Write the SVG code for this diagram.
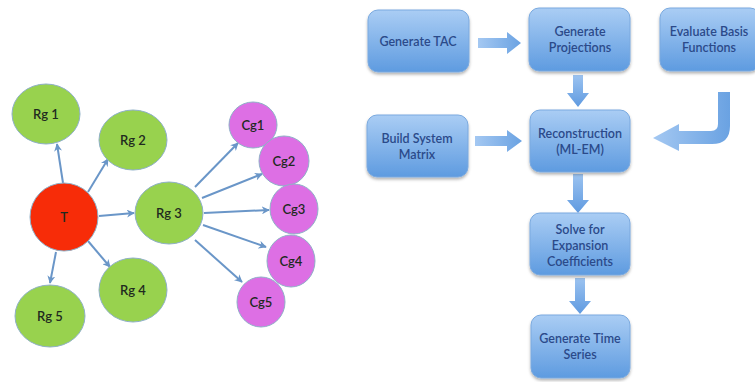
<svg xmlns="http://www.w3.org/2000/svg" width="755" height="382" viewBox="0 0 755 382">
<defs>
<linearGradient id="boxg" x1="0" y1="0" x2="0" y2="1">
<stop offset="0" stop-color="#aacdf4"/>
<stop offset="1" stop-color="#5e9be0"/>
</linearGradient>
<linearGradient id="arrg" x1="0" y1="0" x2="0" y2="1">
<stop offset="0" stop-color="#9cc3f0"/>
<stop offset="1" stop-color="#5f9ae0"/>
</linearGradient>
<linearGradient id="arrh" x1="0" y1="0" x2="1" y2="0">
<stop offset="0" stop-color="#a4c8f2"/>
<stop offset="1" stop-color="#6aa2e2"/>
</linearGradient>
<filter id="sh" x="-20%" y="-20%" width="140%" height="150%">
<feDropShadow dx="0" dy="2" stdDeviation="1.5" flood-color="#000" flood-opacity="0.3"/>
</filter>
<marker id="ah" viewBox="0 0 10 10" refX="9" refY="5" markerWidth="4" markerHeight="4" orient="auto" markerUnits="strokeWidth">
<path d="M0,0 L10,5 L0,10 L3,5 Z" fill="#6a96c8"/>
</marker>
</defs>
<style>
.g{fill:#98d24e;stroke:#8fb0c8;stroke-width:1}
.r{fill:#f72c08;stroke:#8fb0c8;stroke-width:1}
.m{fill:#dd6fe4;stroke:#8fb0c8;stroke-width:1}
.ct{font-family:Lato,"Liberation Sans",Arial,sans-serif;font-size:13px;font-weight:600;fill:#1f2a1f;text-anchor:middle}
.box{fill:url(#boxg);stroke:#7aa9df;stroke-width:1;filter:url(#sh)}
.bt{font-family:Lato,"Liberation Sans",Arial,sans-serif;font-size:12.5px;font-weight:600;fill:#2b4a8a;text-anchor:middle}
.edge{stroke:#6a96c8;stroke-width:2;fill:none;marker-end:url(#ah)}
.fa{fill:url(#arrg)}
.fh{fill:url(#arrh)}
</style>
<rect width="755" height="382" fill="#fff"/>

<g id="connectors">
<line class="edge" x1="63" y1="183" x2="57" y2="144"/>
<line class="edge" x1="88" y1="192" x2="108" y2="159"/>
<line class="edge" x1="99" y1="216" x2="134" y2="213"/>
<line class="edge" x1="88" y1="241" x2="110" y2="267"/>
<line class="edge" x1="56" y1="252" x2="50" y2="283"/>
<line class="edge" x1="195" y1="187" x2="238" y2="143"/>
<line class="edge" x1="202" y1="198" x2="262" y2="174"/>
<line class="edge" x1="204" y1="213" x2="269" y2="210"/>
<line class="edge" x1="203" y1="225" x2="266" y2="247"/>
<line class="edge" x1="195" y1="240" x2="242" y2="282"/>
<path class="fh" d="M478,38 L507,38 L507,32 L521,43 L507,54 L507,48 L478,48 Z"/>
<path class="fh" d="M475,136 L507,136 L507,130 L522,141 L507,152 L507,146 L475,146 Z"/>
<path class="fa" d="M573,75 L583,75 L583,93 L589,93 L578,107 L567,93 L573,93 Z"/>
<path class="fa" d="M573,174 L583,174 L583,200 L589,200 L578,213 L567,200 L573,200 Z"/>
<path class="fa" d="M575,278 L585,278 L585,301 L591,301 L580,314 L569,301 L575,301 Z"/>
<path class="fh" d="M718,92 L730,92 L730,126 Q730,144 712,144 L679,144 L679,151 L653,138 L679,124 L679,131 L711,131 Q718,131 718,124 Z"/>
</g>

<g id="T"><ellipse class="r" cx="64" cy="217" rx="34" ry="34"/><text class="ct" x="64" y="222">T</text></g>
<g id="Rg1"><ellipse class="g" cx="46" cy="114" rx="34" ry="30"/><text class="ct" x="46" y="119">Rg 1</text></g>
<g id="Rg2"><ellipse class="g" cx="133" cy="140" rx="34" ry="30"/><text class="ct" x="133" y="145">Rg 2</text></g>
<g id="Rg3"><ellipse class="g" cx="169" cy="213" rx="34" ry="31"/><text class="ct" x="169" y="218">Rg 3</text></g>
<g id="Rg4"><ellipse class="g" cx="133" cy="290" rx="34" ry="32"/><text class="ct" x="133" y="295">Rg 4</text></g>
<g id="Rg5"><ellipse class="g" cx="50" cy="316" rx="35" ry="31"/><text class="ct" x="50" y="321">Rg 5</text></g>
<g id="Cg1"><ellipse class="m" cx="253" cy="125" rx="24" ry="23"/><text class="ct" x="253" y="130">Cg1</text></g>
<g id="Cg2"><ellipse class="m" cx="284" cy="161" rx="25" ry="25"/><text class="ct" x="284" y="166">Cg2</text></g>
<g id="Cg3"><ellipse class="m" cx="294" cy="209" rx="24" ry="25"/><text class="ct" x="294" y="214">Cg3</text></g>
<g id="Cg4"><ellipse class="m" cx="291" cy="261" rx="24" ry="26"/><text class="ct" x="291" y="266">Cg4</text></g>
<g id="Cg5"><ellipse class="m" cx="261" cy="302" rx="24" ry="25"/><text class="ct" x="261" y="307">Cg5</text></g>

<g id="GenerateTAC"><rect class="box" x="368" y="10" width="101" height="62" rx="10"/><text class="bt" x="418" y="46">Generate TAC</text></g>
<g id="GenerateProjections"><rect class="box" x="529" y="8" width="101" height="63" rx="10"/><text class="bt" x="580" y="36">Generate</text><text class="bt" x="580" y="52">Projections</text></g>
<g id="EvaluateBasis"><rect class="box" x="660" y="8" width="100" height="63" rx="10"/><text class="bt" x="709" y="36">Evaluate Basis</text><text class="bt" x="709" y="52">Functions</text></g>
<g id="BuildSystem"><rect class="box" x="367" y="115" width="101" height="62" rx="10"/><text class="bt" x="417" y="143">Build System</text><text class="bt" x="417" y="159">Matrix</text></g>
<g id="Reconstruction"><rect class="box" x="530" y="110" width="100" height="62" rx="10"/><text class="bt" x="580" y="138">Reconstruction</text><text class="bt" x="580" y="154">(ML-EM)</text></g>
<g id="Solve"><rect class="box" x="530" y="213" width="100" height="62" rx="10"/><text class="bt" x="580" y="234">Solve for</text><text class="bt" x="580" y="250">Expansion</text><text class="bt" x="580" y="266">Coefficients</text></g>
<g id="GenerateTimeSeries"><rect class="box" x="531" y="315" width="99" height="63" rx="10"/><text class="bt" x="580" y="343">Generate Time</text><text class="bt" x="580" y="359">Series</text></g>
</svg>
